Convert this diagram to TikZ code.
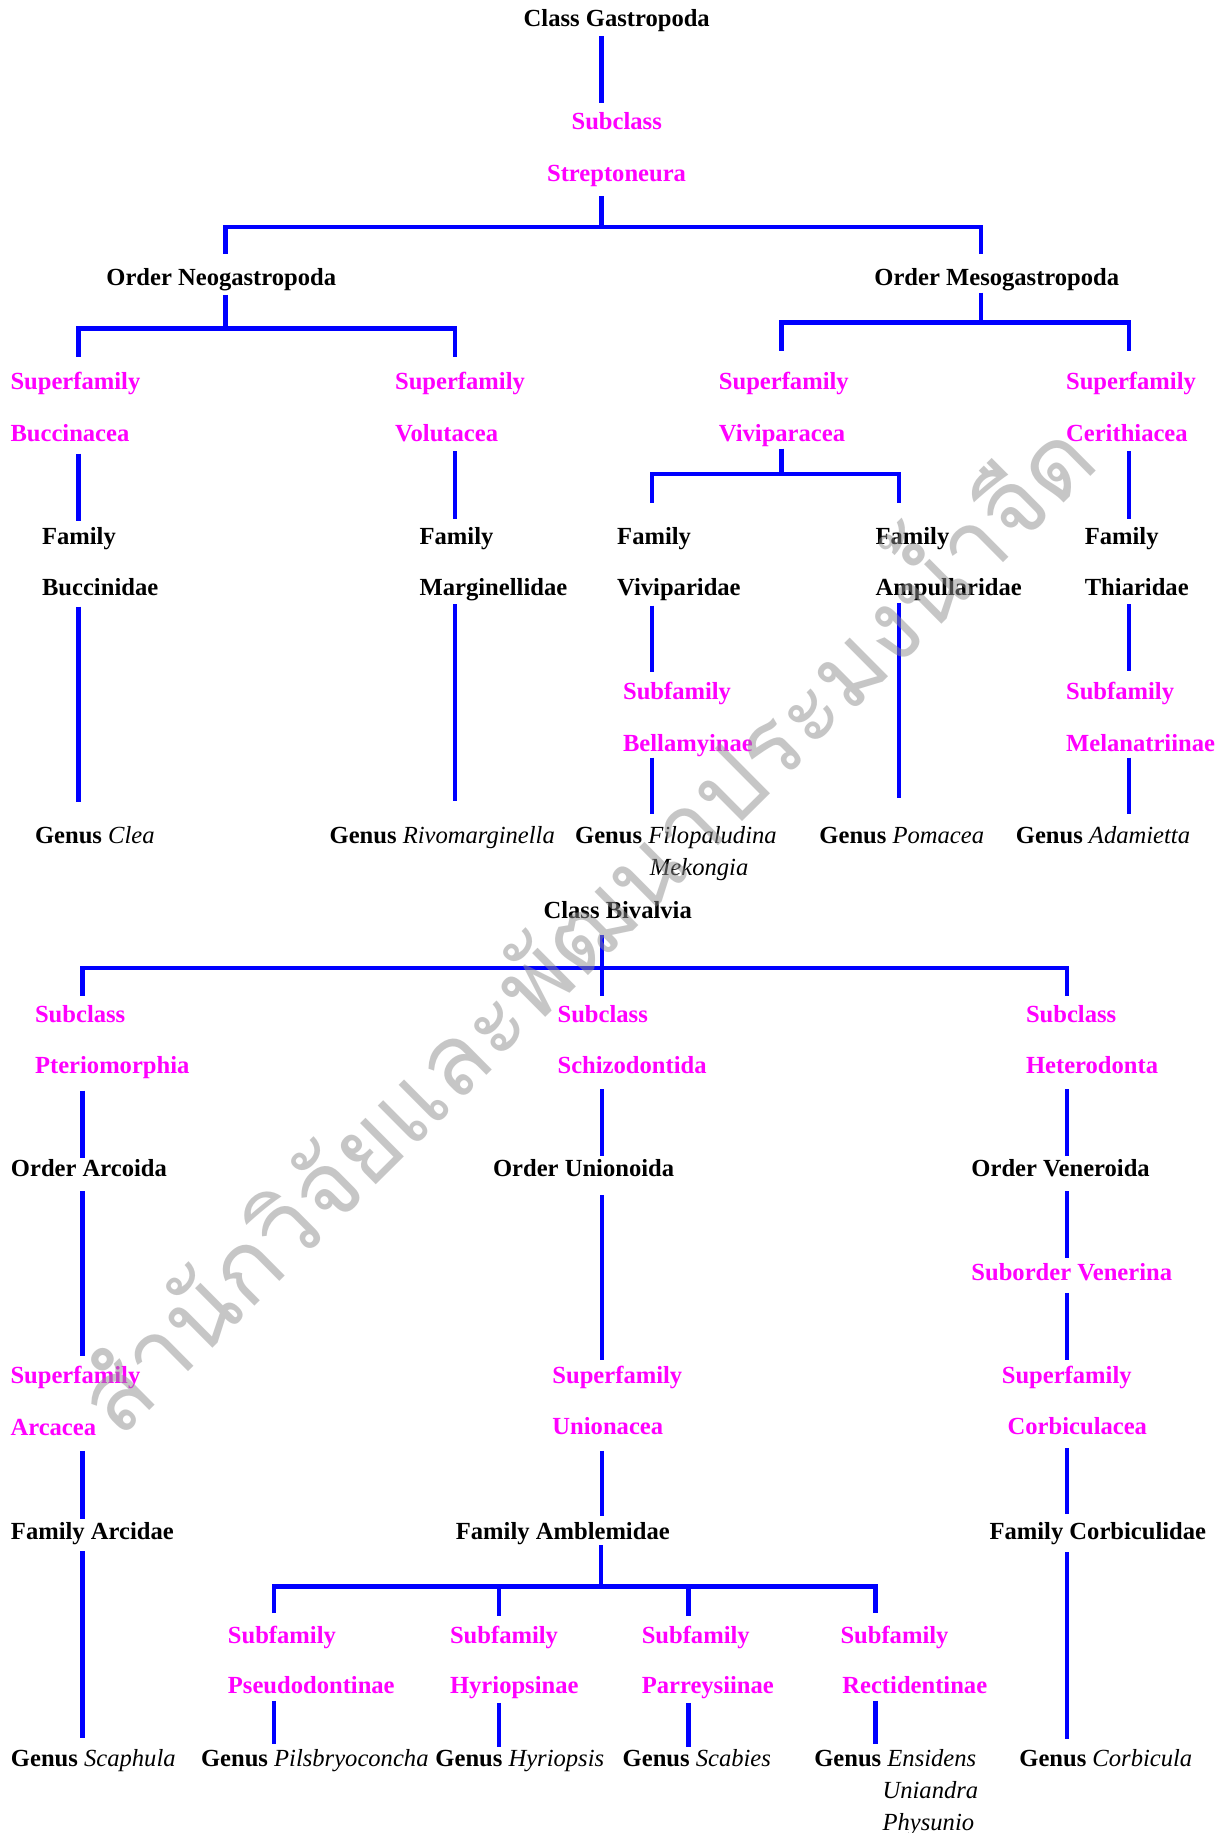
\documentclass[tikz,border=0pt]{standalone}
\usepackage{fontspec}
\setmainfont{Liberation Serif}
\newfontfamily\thaifont[Script=Thai]{Loma}
\usetikzlibrary{calc}
\definecolor{lblue}{RGB}{0,0,255}
\definecolor{magc}{RGB}{255,0,255}
\newcommand\fsz{\fontsize{12.3pt}{15pt}\selectfont}
\newcommand\gn[1]{Genus {\mdseries\itshape #1}}
\newcommand\vlink[5]{\draw[lnk] ($(#1.south -| #3)+(0,#4)$) -- ($(#2.north -| #3)-(0,#5)$);}
\tikzset{
  tx/.style={anchor=base west, inner sep=0pt, outer sep=0pt, text height=9.2pt, text depth=3.1pt, font=\fsz\bfseries},
  blktx/.style={tx, text=black},
  magtx/.style={tx, text=magc},
  ittx/.style={tx, text=black, font=\fsz\mdseries\itshape},
  lnk/.style={draw=lblue, line width=2.2pt},
  wm/.style={inner sep=0pt, text=black!44, text opacity=0.5, font=\thaifont\fontsize{49pt}{55pt}\selectfont, rotate=44.8}
}
\begin{document}
\begin{tikzpicture}[x=0.5847pt,y=-0.5847pt]
\useasboundingbox (0,0) rectangle (1051,1568);
\fill[white] (0,0) rectangle (1051,1568);
% columns
\coordinate (k514) at (514.5,0);
\coordinate (k193) at (193,0);
\coordinate (k839) at (839,0);
\coordinate (k67) at (67,0);
\coordinate (k389) at (389,0);
\coordinate (k668) at (668.5,0);
\coordinate (k966) at (966,0);
\coordinate (k557) at (557.5,0);
\coordinate (k769) at (769,0);
\coordinate (k70) at (70.6,0);
\coordinate (k515) at (515,0);
\coordinate (k912) at (912.5,0);
\coordinate (k234) at (234.5,0);
\coordinate (k427) at (426.6,0);
\coordinate (k589) at (589,0);
\coordinate (k749) at (749,0);
% ---------- Gastropoda ----------
\node[blktx] (cg) at (448,22.5) {Class Gastropoda};
\node[magtx] (sc1) at (489,110.5) {Subclass};
\node[magtx] (sc1n) at (468,155.5) {Streptoneura};
\node[blktx] (oneo) at (91,244.5) {Order Neogastropoda};
\node[blktx] (omes) at (748,244.5) {Order Mesogastropoda};
\node[magtx] (sf1) at (9,333.5) {Superfamily};
\node[magtx] (sf1n) at (9,377.5) {Buccinacea};
\node[magtx] (sf2) at (338,333.5) {Superfamily};
\node[magtx] (sf2n) at (338,377.5) {Volutacea};
\node[magtx] (sf3) at (615,333.5) {Superfamily};
\node[magtx] (sf3n) at (615,377.5) {Viviparacea};
\node[magtx] (sf4) at (912,333.5) {Superfamily};
\node[magtx] (sf4n) at (912,377.5) {Cerithiacea};
\node[blktx] (f1) at (36,465.5) {Family};
\node[blktx] (f1n) at (36,509.5) {Buccinidae};
\node[blktx] (f2) at (359,465.5) {Family};
\node[blktx] (f2n) at (359,509.5) {Marginellidae};
\node[blktx] (f3) at (528,465.5) {Family};
\node[blktx] (f3n) at (528,509.5) {Viviparidae};
\node[blktx] (f4) at (749,465.5) {Family};
\node[blktx] (f4n) at (749,509.5) {Ampullaridae};
\node[blktx] (f5) at (928,465.5) {Family};
\node[blktx] (f5n) at (928,509.5) {Thiaridae};
\node[magtx] (s1) at (533,598.5) {Subfamily};
\node[magtx] (s1n) at (533,642.5) {Bellamyinae};
\node[magtx] (s2) at (912,598.5) {Subfamily};
\node[magtx] (s2n) at (912,642.5) {Melanatriinae};
\node[blktx] (g1) at (30,721.5) {\gn{Clea}};
\node[blktx] (g2) at (282,721.5) {\gn{Rivomarginella}};
\node[blktx] (g3) at (492,721.5) {\gn{Filopaludina}};
\node[ittx] (g3b) at (556,748.5) {Mekongia};
\node[blktx] (g4) at (701,721.5) {\gn{Pomacea}};
\node[blktx] (g5) at (869,721.5) {\gn{Adamietta}};
% ---------- Bivalvia ----------
\node[blktx] (cb) at (465,785.5) {Class Bivalvia};
\node[magtx] (bs1) at (30,874.5) {Subclass};
\node[magtx] (bs1n) at (30,918.5) {Pteriomorphia};
\node[magtx] (bs2) at (477,874.5) {Subclass};
\node[magtx] (bs2n) at (477,918.5) {Schizodontida};
\node[magtx] (bs3) at (877.7,874.5) {Subclass};
\node[magtx] (bs3n) at (877.7,918.5) {Heterodonta};
\node[blktx] (o1) at (9.4,1006.5) {Order Arcoida};
\node[blktx] (o2) at (421.8,1006.5) {Order Unionoida};
\node[blktx] (o3) at (831,1006.5) {Order Veneroida};
\node[magtx] (sub) at (831,1095.5) {Suborder Venerina};
\node[magtx] (bf1) at (9,1183.5) {Superfamily};
\node[magtx] (bf1n) at (9,1228) {Arcacea};
\node[magtx] (bf2) at (472.6,1183.5) {Superfamily};
\node[magtx] (bf2n) at (472.6,1227.5) {Unionacea};
\node[magtx] (bf3) at (857,1183.5) {Superfamily};
\node[magtx] (bf3n) at (862,1227.5) {Corbiculacea};
\node[blktx] (fa1) at (9.4,1316.5) {Family Arcidae};
\node[blktx] (fa2) at (390,1316.5) {Family Amblemidae};
\node[blktx] (fa3) at (846.5,1316.5) {Family Corbiculidae};
\node[magtx] (bsf1) at (195,1405.5) {Subfamily};
\node[magtx] (bsf1n) at (195,1449) {Pseudodontinae};
\node[magtx] (bsf2) at (385,1405.5) {Subfamily};
\node[magtx] (bsf2n) at (385,1449) {Hyriopsinae};
\node[magtx] (bsf3) at (549,1405.5) {Subfamily};
\node[magtx] (bsf3n) at (549,1449) {Parreysiinae};
\node[magtx] (bsf4) at (719,1405.5) {Subfamily};
\node[magtx] (bsf4n) at (720.6,1449) {Rectidentinae};
\node[blktx] (bg1) at (9.4,1511.5) {\gn{Scaphula}};
\node[blktx] (bg2) at (172,1511.5) {\gn{Pilsbryoconcha}};
\node[blktx] (bg3) at (372.5,1511.5) {\gn{Hyriopsis}};
\node[blktx] (bg4) at (532.7,1511.5) {\gn{Scabies}};
\node[blktx] (bg5) at (696.6,1511.5) {\gn{Ensidens}};
\node[ittx] (bg5b) at (755,1538.5) {Uniandra};
\node[ittx] (bg5c) at (755,1565.5) {Physunio};
\node[blktx] (bg6) at (872,1511.5) {\gn{Corbicula}};
% ---------- connectors: Gastropoda ----------
\vlink{cg}{sc1}{k514}{3.2}{6.8}
\coordinate (barA) at (514.5,194);
\draw[lnk] ($(sc1n.south -| barA)+(0,7.2)$) -- (barA);
\draw[lnk] ($(oneo.north -| k193)-(0,11.8)$) -- (barA -| k193) -- (barA -| k839) -- ($(omes.north -| k839)-(0,11.8)$);
\coordinate (barB) at (193,281);
\draw[lnk] ($(oneo.south -| barB)+(0,2.5)$) -- (barB);
\draw[lnk] ($(sf1.north -| k67)-(0,12.8)$) -- (barB -| k67) -- (barB -| k389) -- ($(sf2.north -| k389)-(0,12.8)$);
\coordinate (barC) at (839,276);
\draw[lnk] ($(omes.south -| barC)+(0,0.5)$) -- (barC);
\draw[lnk] ($(sf3.north -| k668)-(0,17.8)$) -- (barC -| k668) -- (barC -| k966) -- ($(sf4.north -| k966)-(0,17.8)$);
\coordinate (barD) at (668.5,405.5);
\draw[lnk] ($(sf3n.south -| barD)+(0,1)$) -- (barD);
\draw[lnk] ($(f3.north -| k557)-(0,19.8)$) -- (barD -| k557) -- (barD -| k769) -- ($(f4.north -| k769)-(0,19.8)$);
\vlink{sf1n}{f1}{k67}{5.2}{4.3}
\vlink{sf2n}{f2}{k389}{3.2}{5.8}
\vlink{sf4n}{f5}{k966}{3.2}{5.8}
\vlink{f1n}{g1}{k67}{4.2}{19.8}
\vlink{f2n}{g2}{k389}{2.2}{20.8}
\vlink{f3n}{s1}{k557}{3.2}{7.8}
\vlink{f4n}{g4}{k769}{1}{22.8}
\vlink{f5n}{s2}{k966}{1.9}{8.8}
\vlink{s1n}{g3}{k557}{0.2}{9.8}
\vlink{s2n}{g5}{k966}{0.2}{9.8}
% ---------- connectors: Bivalvia ----------
\coordinate (barE) at (515,828);
\draw[lnk] ($(cb.south -| barE)+(0,8.8)$) -- ($(bs2.north -| barE)-(0,6.8)$);
\draw[lnk] ($(bs1.north -| k70)-(0,6.8)$) -- (barE -| k70) -- (barE -| k912) -- ($(bs3.north -| k912)-(0,6.8)$);
\vlink{bs1n}{o1}{k70}{9.2}{0.3}
\vlink{bs2n}{o2}{k515}{7.8}{2.2}
\vlink{bs3n}{o3}{k912}{7.8}{2.2}
\vlink{o1}{bf1}{k70}{7.2}{7.8}
\vlink{o2}{bf2}{k515}{10.8}{4.8}
\vlink{o3}{sub}{k912}{7.2}{3.8}
\vlink{sub}{bf3}{k912}{5.2}{4.8}
\vlink{bf1n}{fa1}{k70}{7.7}{1.8}
\vlink{bf2n}{fa2}{k515}{8.2}{3.8}
\vlink{bf3n}{fa3}{k912}{6.2}{5.8}
\vlink{fa1}{bg1}{k70}{5.2}{8.8}
\vlink{fa3}{bg6}{k912}{6.2}{7.8}
\coordinate (barF) at (514,1357);
\draw[lnk] (fa2.south -| barF) -- (barF);
\draw[lnk] ($(bsf1.north -| k234)-(0,9.8)$) -- (barF -| k234) -- (barF -| k749) -- ($(bsf4.north -| k749)-(0,9.8)$);
\draw[lnk] (barF -| k427) -- ($(bsf2.north -| k427)-(0,7.3)$);
\draw[lnk] (barF -| k589) -- ($(bsf3.north -| k589)-(0,7.3)$);
\vlink{bsf1n}{bg2}{k234}{0.7}{3.8}
\vlink{bsf2n}{bg3}{k427}{2.3}{1.2}
\vlink{bsf3n}{bg4}{k589}{2.3}{1.2}
\vlink{bsf4n}{bg5}{k749}{0.7}{3.8}
% ---------- watermark ----------
\node[wm] (wmark) at (491,784) {สำนักวิจัยและพัฒนาประมงน้ำจืด};
\end{tikzpicture}
\end{document}
